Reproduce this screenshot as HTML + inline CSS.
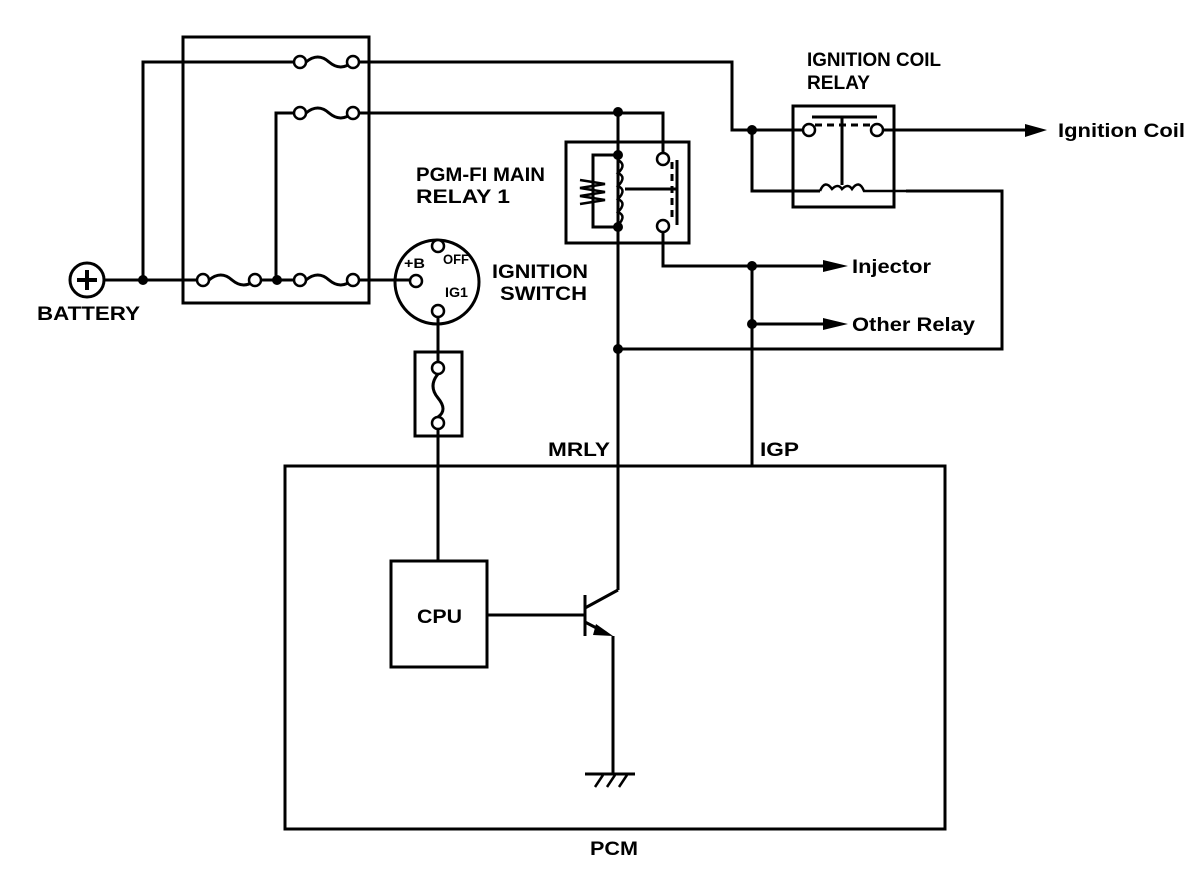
<!DOCTYPE html>
<html><head><meta charset="utf-8"><style>
html,body{margin:0;padding:0;background:#fff;}
svg{display:block;}
text{font-family:"Liberation Sans",Arial,sans-serif;font-weight:bold;fill:#000;}
</style></head><body>
<svg width="1200" height="870" viewBox="0 0 1200 870" xmlns="http://www.w3.org/2000/svg">
<g fill="none" stroke="#000" stroke-width="3">
<rect x="183" y="37" width="186" height="266"/>
<path d="M143 280 V62 H294 M359 62 H732 V130 H803"/>
<path d="M306 62 q12 -10 23 0 q12 10 23 0"/>
<path d="M276 280 V113 H294 M359 113 H663 V153"/>
<path d="M306 113 q12 -10 23 0 q12 10 23 0"/>
<path d="M104 280 H197 M261 280 H294 M359 280 H410"/>
<path d="M209 280 q12 -10 23 0 q12 10 23 0"/>
<path d="M306 280 q12 -10 23 0 q12 10 23 0"/>
<circle cx="87" cy="280" r="17"/>
<circle cx="437" cy="282" r="42"/>
<path d="M438 317 V362 M438 429 V560"/>
<rect x="415" y="352" width="47" height="84"/>
<path d="M438 374 q-10 12 0 24 q10 12 0 19"/>
<rect x="566" y="142" width="123" height="101"/>
<path d="M618 113 V227 M618 227 V590"/>
<path d="M618 155 H593 V227 H618"/>
<path d="M625 189 H677 M677 160 V225"/>
<path d="M672 162 V222" stroke-dasharray="7,5"/>
<path d="M663 232 V266 H823"/>
<path d="M618 349 H1002 V191 H906"/>
<rect x="793" y="106" width="101" height="101"/>
<path d="M812 117 H877 M842 117 V185"/>
<path d="M815 125 H872" stroke-dasharray="7,5"/>
<path d="M752 130 V191 H820"/>
<path d="M883 130 H1027"/>
<path d="M752 266 V466"/>
<path d="M752 324 H823"/>
<rect x="285" y="466" width="660" height="363"/>
<rect x="391" y="561" width="96" height="106"/>
<path d="M487 615 H585 M585 595 V636 M585 608 L618 590 M585 622 L606 633 M613 636 V774 M585 774 H635"/>
<path d="M595 787 l8 -12 M607 787 l8 -12 M619 787 l8 -12" stroke-width="2.5"/>
</g>
<g fill="none" stroke="#000" stroke-width="2.5">
<path d="M618 160 q9 5 0 13 q9 4 0 13 q9 4 0 13 q9 4 0 13 q9 4 0 13"/>
<path d="M580 180 l25 4 l-25 4 l25 4 l-25 4 l25 4 l-25 4"/>
<path d="M820 191 q5 -12 12 -2 q6 -6 10 0 q6 -6 10 0 q7 -10 12 2 H906"/>
</g>
<g fill="#000">
<polygon points="1025,124 1047,130 1025,137"/>
<polygon points="823,260 848,266 823,272"/>
<polygon points="823,318 848,324 823,330"/>
<polygon points="596,624 613,636 593,635"/>
</g>
<g fill="#fff" stroke="#000" stroke-width="2.5">
<circle cx="300" cy="62" r="6"/><circle cx="353" cy="62" r="6"/>
<circle cx="300" cy="113" r="6"/><circle cx="353" cy="113" r="6"/>
<circle cx="203" cy="280" r="6"/><circle cx="255" cy="280" r="6"/>
<circle cx="300" cy="280" r="6"/><circle cx="353" cy="280" r="6"/>
<circle cx="416" cy="281" r="6"/><circle cx="438" cy="246" r="6"/><circle cx="438" cy="311" r="6"/>
<circle cx="438" cy="368" r="6"/><circle cx="438" cy="423" r="6"/>
<circle cx="663" cy="159" r="6"/><circle cx="663" cy="226" r="6"/>
<circle cx="809" cy="130" r="6"/><circle cx="877" cy="130" r="6"/>
</g>
<g fill="#000">
<circle cx="143" cy="280" r="5"/><circle cx="277" cy="280" r="5"/>
<circle cx="618" cy="112" r="5"/><circle cx="618" cy="155" r="5"/><circle cx="618" cy="227" r="5"/>
<circle cx="618" cy="349" r="5"/><circle cx="752" cy="130" r="5"/>
<circle cx="752" cy="266" r="5"/><circle cx="752" cy="324" r="5"/>
</g>
<path d="M77 280 H97 M87 270 V290" stroke="#000" stroke-width="4"/>
<g font-size="19" lengthAdjust="spacingAndGlyphs">
<text x="37" y="320" textLength="103" lengthAdjust="spacingAndGlyphs">BATTERY</text>
<text x="416" y="181" textLength="129" lengthAdjust="spacingAndGlyphs">PGM-FI MAIN</text>
<text x="416" y="203" textLength="94" lengthAdjust="spacingAndGlyphs">RELAY 1</text>
<text x="807" y="66" textLength="134" lengthAdjust="spacingAndGlyphs">IGNITION COIL</text>
<text x="807" y="89" textLength="63" lengthAdjust="spacingAndGlyphs">RELAY</text>
<text x="492" y="278" textLength="96" lengthAdjust="spacingAndGlyphs">IGNITION</text>
<text x="500" y="300" textLength="87" lengthAdjust="spacingAndGlyphs">SWITCH</text>
<text x="1058" y="137" textLength="127" lengthAdjust="spacingAndGlyphs">Ignition Coil</text>
<text x="852" y="273" textLength="79" lengthAdjust="spacingAndGlyphs">Injector</text>
<text x="852" y="331" textLength="123" lengthAdjust="spacingAndGlyphs">Other Relay</text>
<text x="548" y="456" textLength="62" lengthAdjust="spacingAndGlyphs">MRLY</text>
<text x="760" y="456" textLength="39" lengthAdjust="spacingAndGlyphs">IGP</text>
<text x="417" y="623" textLength="45" lengthAdjust="spacingAndGlyphs">CPU</text>
<text x="590" y="855" textLength="48" lengthAdjust="spacingAndGlyphs">PCM</text>
</g>
<text x="404" y="268" font-size="14" textLength="21" lengthAdjust="spacingAndGlyphs">+B</text>
<text x="443" y="264" font-size="14" textLength="26" lengthAdjust="spacingAndGlyphs">OFF</text>
<text x="445" y="297" font-size="14" textLength="23" lengthAdjust="spacingAndGlyphs">IG1</text>
</svg>
</body></html>
